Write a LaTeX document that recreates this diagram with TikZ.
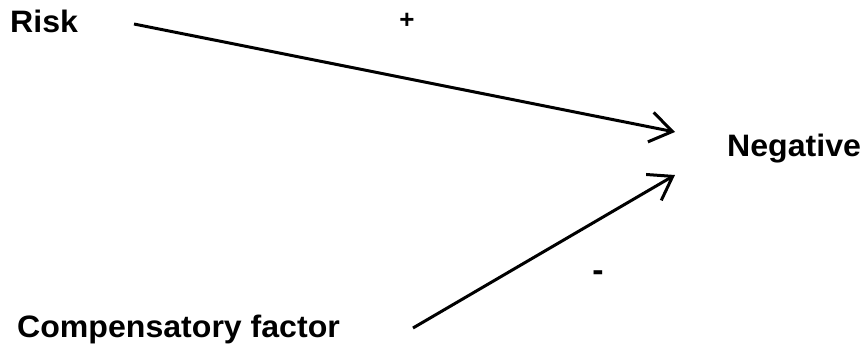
\documentclass[tikz,border=0pt]{standalone}
\usepackage{fontspec}
\setmainfont{Liberation Sans}
\usetikzlibrary{arrows.meta}
\begin{document}
\begin{tikzpicture}[x=1pt,y=-1pt,
  lbl/.style={inner sep=0pt,anchor=base west,xscale=1.035,font=\bfseries\fontsize{31}{36}\selectfont},
  sgn/.style={inner sep=0pt,font=\bfseries\fontsize{26}{30}\selectfont},
  conn/.style={line width=3pt,-{Straight Barb[length=22pt,width=30pt,line width=3pt]}}]
\useasboundingbox[fill=white] (0,0) rectangle (863,348);
\node[lbl] (risk) at (10,32) {Risk};
\node[lbl] (neg) at (727,156) {Negative};
\node[lbl] (comp) at (17,337) {Compensatory factor};
\node[sgn] (plus) at (407,21) {+};
\node[sgn,scale=1.3] (minus) at (598,276) {-};
\coordinate (r1) at (134,24);
\coordinate (n1) at (675,132);
\coordinate (c1) at (413,328);
\coordinate (n2) at (675,175);
\draw[conn] (r1) -- (n1);
\draw[conn] (c1) -- (n2);
\end{tikzpicture}
\end{document}
